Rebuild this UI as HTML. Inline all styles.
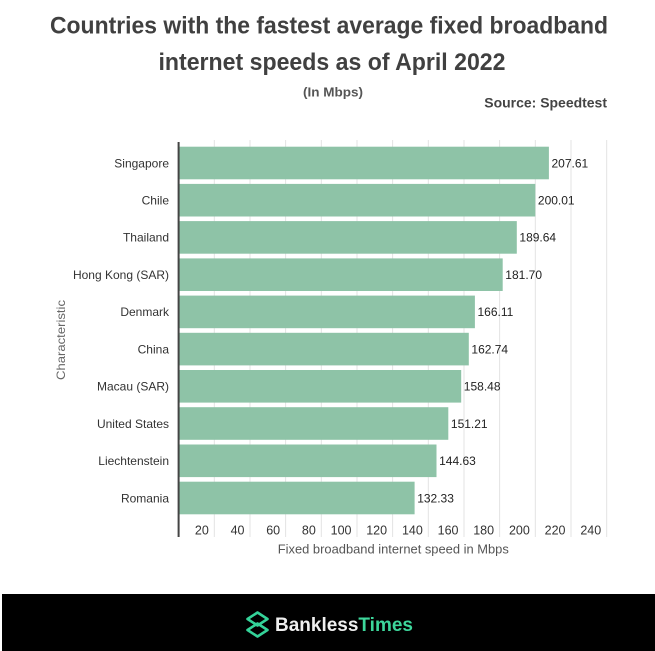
<!DOCTYPE html>
<html>
<head>
<meta charset="utf-8">
<style>
  html,body{margin:0;padding:0;background:#fff;}
  body{width:655px;height:651px;overflow:hidden;position:relative;}
  svg{position:absolute;left:0;top:0;}
  text{font-family:"Liberation Sans",Arial,sans-serif;}
</style>
</head>
<body>
<svg width="655" height="651" viewBox="0 0 655 651" xmlns="http://www.w3.org/2000/svg">
  <rect x="0" y="0" width="655" height="651" fill="#ffffff"/>

  <!-- Title -->
  <text x="329" y="33.3" text-anchor="middle" font-size="24.5" font-weight="bold" fill="#404040" textLength="558" lengthAdjust="spacingAndGlyphs">Countries with the fastest average fixed broadband</text>
  <text x="332" y="70" text-anchor="middle" font-size="24.5" font-weight="bold" fill="#404040" textLength="347" lengthAdjust="spacingAndGlyphs">internet speeds as of April 2022</text>
  <text x="333" y="96.5" text-anchor="middle" font-size="12.5" font-weight="bold" fill="#555" textLength="60" lengthAdjust="spacingAndGlyphs">(In Mbps)</text>
  <text x="607" y="107.3" text-anchor="end" font-size="13.5" font-weight="bold" fill="#444" textLength="122.7" lengthAdjust="spacingAndGlyphs">Source: Speedtest</text>

  <!-- Gridlines -->
  <g stroke="#e3e3e3" stroke-width="1">
    <line x1="214.3" y1="140" x2="214.3" y2="537"/>
    <line x1="250.0" y1="140" x2="250.0" y2="537"/>
    <line x1="285.6" y1="140" x2="285.6" y2="537"/>
    <line x1="321.3" y1="140" x2="321.3" y2="537"/>
    <line x1="357.0" y1="140" x2="357.0" y2="537"/>
    <line x1="392.6" y1="140" x2="392.6" y2="537"/>
    <line x1="428.3" y1="140" x2="428.3" y2="537"/>
    <line x1="464.0" y1="140" x2="464.0" y2="537"/>
    <line x1="499.6" y1="140" x2="499.6" y2="537"/>
    <line x1="535.3" y1="140" x2="535.3" y2="537"/>
    <line x1="571.0" y1="140" x2="571.0" y2="537"/>
    <line x1="606.7" y1="140" x2="606.7" y2="537"/>
  </g>

  <!-- Bars -->
  <g fill="#8ec3a7">
    <rect x="178.6" y="146.7" width="370.3" height="32.6"/>
    <rect x="178.6" y="183.9" width="356.7" height="32.6"/>
    <rect x="178.6" y="221.1" width="338.2" height="32.6"/>
    <rect x="178.6" y="258.4" width="324.1" height="32.6"/>
    <rect x="178.6" y="295.6" width="296.3" height="32.6"/>
    <rect x="178.6" y="332.8" width="290.2" height="32.6"/>
    <rect x="178.6" y="370.0" width="282.6" height="32.6"/>
    <rect x="178.6" y="407.2" width="269.7" height="32.6"/>
    <rect x="178.6" y="444.5" width="257.9" height="32.6"/>
    <rect x="178.6" y="481.7" width="236.0" height="32.6"/>
  </g>

  <!-- Axis line -->
  <line x1="178.6" y1="142" x2="178.6" y2="537" stroke="#444" stroke-width="2"/>

  <!-- Value labels -->
  <g font-size="12" fill="#222">
    <text x="551.5" y="167.3">207.61</text>
    <text x="537.9" y="204.5">200.01</text>
    <text x="519.4" y="241.7">189.64</text>
    <text x="505.3" y="279.0">181.70</text>
    <text x="477.5" y="316.2">166.11</text>
    <text x="471.4" y="353.4">162.74</text>
    <text x="463.8" y="390.6">158.48</text>
    <text x="450.9" y="427.8">151.21</text>
    <text x="439.1" y="465.1">144.63</text>
    <text x="417.2" y="502.3">132.33</text>
  </g>

  <!-- Category labels -->
  <g font-size="12" fill="#333" text-anchor="end">
    <text x="169" y="167.3">Singapore</text>
    <text x="169" y="204.5">Chile</text>
    <text x="169" y="241.7">Thailand</text>
    <text x="169" y="279.0">Hong Kong (SAR)</text>
    <text x="169" y="316.2">Denmark</text>
    <text x="169" y="353.4">China</text>
    <text x="169" y="390.6">Macau (SAR)</text>
    <text x="169" y="427.8">United States</text>
    <text x="169" y="465.1">Liechtenstein</text>
    <text x="169" y="502.3">Romania</text>
  </g>

  <!-- Tick labels -->
  <g font-size="12.5" fill="#333" text-anchor="end">
    <text x="208.8" y="534.5">20</text>
    <text x="244.5" y="534.5">40</text>
    <text x="280.1" y="534.5">60</text>
    <text x="315.8" y="534.5">80</text>
    <text x="351.5" y="534.5">100</text>
    <text x="387.1" y="534.5">120</text>
    <text x="422.8" y="534.5">140</text>
    <text x="458.5" y="534.5">160</text>
    <text x="494.1" y="534.5">180</text>
    <text x="529.8" y="534.5">200</text>
    <text x="565.5" y="534.5">220</text>
    <text x="601.2" y="534.5">240</text>
  </g>

  <!-- Axis titles -->
  <text x="393.3" y="553.7" text-anchor="middle" font-size="12.5" fill="#555" textLength="231" lengthAdjust="spacingAndGlyphs">Fixed broadband internet speed in Mbps</text>
  <text x="65" y="340" text-anchor="middle" font-size="12" fill="#666" transform="rotate(-90 65 340)" textLength="80" lengthAdjust="spacingAndGlyphs">Characteristic</text>

  <!-- Footer band -->
  <rect x="2" y="594" width="653" height="57" fill="#000"/>
  <g fill="none" stroke="#34d399" stroke-width="2.6" stroke-linejoin="round">
    <path d="M257.5 612.5 L267.5 619 L257.5 625.5 L247.5 619 Z"/>
    <path d="M257.5 623.5 L267.5 630 L257.5 636.5 L247.5 630 Z"/>
  </g>
  <text x="275" y="631" font-size="19.5" font-weight="bold" textLength="138" lengthAdjust="spacingAndGlyphs"><tspan fill="#efefef">Bankless</tspan><tspan fill="#3dd69b">Times</tspan></text>
</svg>
</body>
</html>
